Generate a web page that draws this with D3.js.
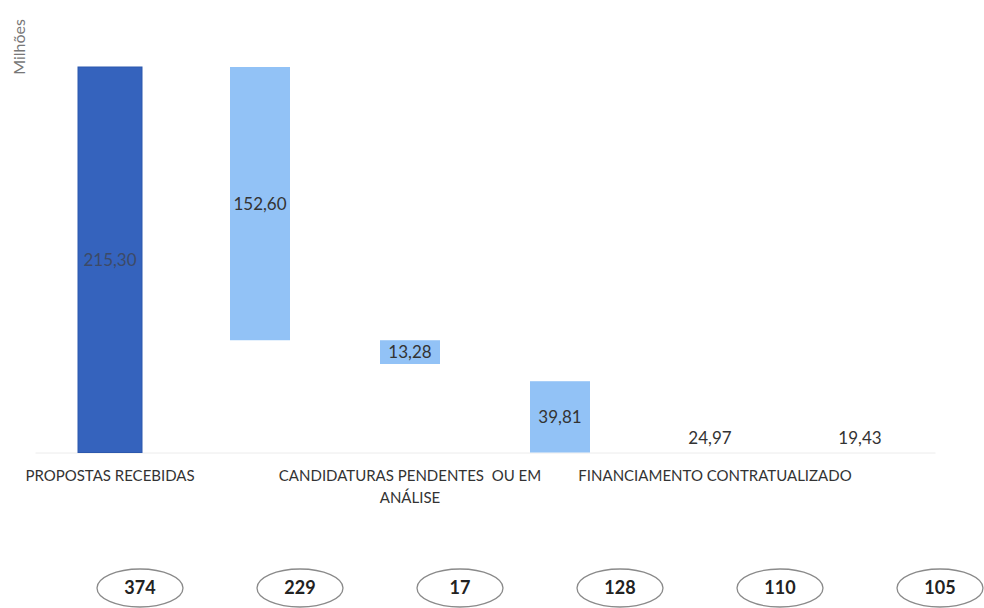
<!DOCTYPE html>
<html>
<head>
<meta charset="utf-8">
<style>
    body { margin: 0; background: #fff; }
    text { font-family: Lato, "Noto Sans", sans-serif; }
</style>
</head>
<body>
<svg id="chart" width="984" height="608"></svg>
<script src="https://cdn.jsdelivr.net/npm/d3@7"></script>
<script>
    // valores em milhões de euros
    let values = [215.30, 152.60, 13.28, 39.81, 24.97, 19.43]
    let kinds = ["total", "decrease", "decrease", "total", "total", "total"]
    let barColors = ["#3563bd", "#92c2f6", "#92c2f6", "#92c2f6", "none", "none"]
    let categories = ["PROPOSTAS RECEBIDAS", "", "CANDIDATURAS PENDENTES \u00a0OU EM|ANÁLISE", "", "FINANCIAMENTO CONTRATUALIZADO", ""]
    let counts = [374, 229, 17, 128, 110, 105]

    let svg = d3.select("#chart")

    // running total for the waterfall
    let running = 0
    let bars = values.map((v, i) => {
        let lo, hi
        if (kinds[i] == "decrease") {
            hi = running
            lo = running - v
            running = lo
        } else {
            lo = 0
            hi = v
            running = v
        }
        return { i: i, value: v, lo: lo, hi: hi, color: barColors[i] }
    })

    let x = d3.scaleBand()
        .domain(d3.range(values.length))
        .range([35, 935])
        .paddingInner(0.6)
        .paddingOuter(0.3)

    let y = d3.scaleLinear()
        .domain([0, 215.3])
        .range([452.5, 67])

    // faint baseline / category axis
    let axis = d3.axisBottom(x).tickSize(0).tickFormat(i => categories[i])
    let ax = svg.append("g")
        .attr("transform", "translate(0," + y(0) + ")")
        .call(axis)
    ax.select(".domain").attr("stroke", "#ececec")
    ax.selectAll(".tick text").each(function(i) {
        let t = d3.select(this)
        let lines = categories[i].split("|")
        t.text(null)
            .attr("fill", "#333")
            .attr("font-size", 15)
            .attr("y", 28)
            .attr("dy", 0)
        lines.forEach((l, k) => {
            t.append("tspan")
                .attr("x", i == 4 ? 5 : 0)
                .attr("dy", k == 0 ? 0 : 22)
                .text(l)
        })
    })

    svg.selectAll("rect.bar")
        .data(bars)
        .join("rect")
        .attr("class", "bar")
        .attr("x", d => x(d.i) + (d.i == 0 ? -2 : 0))
        .attr("width", d => x.bandwidth() + (d.i == 0 ? 4 : 0))
        .attr("y", d => y(d.hi))
        .attr("height", d => y(d.lo) - y(d.hi))
        .attr("fill", d => d.color)
        .attr("stroke", d => d.i == 0 ? "#2d58ad" : "none")
        .attr("stroke-width", 1)

    svg.selectAll("text.val")
        .data(bars)
        .join("text")
        .attr("class", "val")
        .attr("x", d => x(d.i) + x.bandwidth() / 2)
        .attr("y", d => d.color == "none" ? y(d.lo) - 14 : y((d.lo + d.hi) / 2))
        .attr("dy", "0.35em")
        .attr("text-anchor", "middle")
        .attr("font-size", 17)
        .attr("fill", d => d.i == 0 ? "#3d4a66" : "#333")
        .text(d => d3.format(".2f")(d.value).replace(".", ","))

    svg.append("text")
        .attr("transform", "translate(25,47) rotate(-90)")
        .attr("text-anchor", "middle")
        .attr("font-size", 16)
        .attr("fill", "#777")
        .text("Milhões")

    // number of proposals in ovals
    let xc = d3.scalePoint()
        .domain(d3.range(counts.length))
        .range([140, 940])

    let ov = svg.selectAll("g.oval")
        .data(counts)
        .join("g")
        .attr("class", "oval")
        .attr("transform", (d, i) => "translate(" + xc(i) + ",588)")
    ov.append("ellipse")
        .attr("rx", 43)
        .attr("ry", 19)
        .attr("fill", "none")
        .attr("stroke", "#8a8a8a")
        .attr("stroke-width", 1.3)
    ov.append("text")
        .attr("text-anchor", "middle")
        .attr("dy", "0.35em")
        .attr("font-size", 18)
        .attr("font-weight", "bold")
        .attr("fill", "#222")
        .text(d => d)
</script>
</body>
</html>
